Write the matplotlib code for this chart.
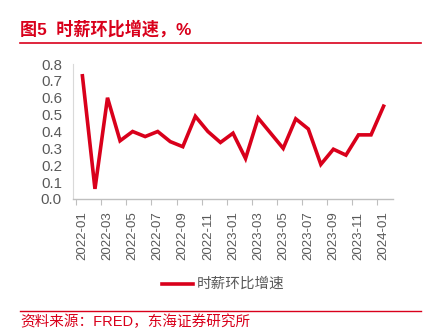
import matplotlib
matplotlib.use("Agg")
import matplotlib.pyplot as plt
from matplotlib.lines import Line2D

plt.rcParams['font.family'] = ['Liberation Sans', 'Noto Sans CJK SC', 'DejaVu Sans']

months = ["2022-01","2022-02","2022-03","2022-04","2022-05","2022-06","2022-07","2022-08",
          "2022-09","2022-10","2022-11","2022-12","2023-01","2023-02","2023-03","2023-04",
          "2023-05","2023-06","2023-07","2023-08","2023-09","2023-10","2023-11","2023-12","2024-01"]
values = [0.73, 0.06, 0.60, 0.345, 0.40, 0.37, 0.40, 0.34, 0.31, 0.49, 0.40, 0.335, 0.39,
          0.24, 0.48, 0.39, 0.30, 0.475, 0.415, 0.205, 0.295, 0.26, 0.38, 0.38, 0.55]
yticks = [0.0, 0.1, 0.2, 0.3, 0.4, 0.5, 0.6, 0.7, 0.8]
title = "图5  时薪环比增速，%"
series_name = "时薪环比增速"
source = "资料来源：FRED，东海证券研究所"

RED = "#D9001B"
GRAY = "#595959"
W, H = 428, 331
fig = plt.figure(figsize=(W/100, H/100), dpi=100)

ax = fig.add_axes([73/W, 1-199/H, (393-73)/W, (199-64)/H])
x = list(range(len(values)))
ax.plot(x, values, color=RED, lw=2.6, solid_joinstyle='miter')
ax.set_xlim(-0.75, len(values)-0.25)
ax.set_ylim(0, 0.8)
ax.set_yticks(yticks)
ax.set_yticklabels([f"{v:.1f}" for v in yticks], fontsize=10.8, color=GRAY)
ax.tick_params(axis='y', length=0, pad=8)
lab_idx = list(range(0, len(months), 2))
ax.set_xticks(lab_idx)
ax.set_xticklabels([months[i] for i in lab_idx], rotation=90, fontsize=9.5, color=GRAY)
ax.tick_params(axis='x', length=0, pad=9)
ax.set_xticks([i - 0.5 for i in lab_idx], minor=True)
ax.tick_params(axis='x', which='minor', length=4, color="#BFBFBF", width=0.8)
for s in ['top', 'right']:
    ax.spines[s].set_visible(False)
ax.spines['left'].set_color("#D9D9D9")
ax.spines['bottom'].set_color("#BFBFBF")
ax.spines['left'].set_linewidth(0.8)
ax.spines['bottom'].set_linewidth(1.0)

fig.text(20/W, 1-29/H, title, color=RED, fontsize=12.3, fontweight='bold', va='center', ha='left')
fig.add_artist(Line2D([20/W, 421/W], [1-43/H, 1-43/H], color=RED, lw=1.2))

fig.add_artist(Line2D([162/W, 193/W], [1-284/H, 1-284/H], color=RED, lw=2.6))
fig.text(197/W, 1-284/H, series_name, color=GRAY, fontsize=10.5, va='center', ha='left')

fig.add_artist(Line2D([20/W, 421/W], [1-311/H, 1-311/H], color=RED, lw=1.0))
fig.text(20/W, 1-322/H, source, color=RED, fontsize=10.5, va='center', ha='left')

fig.savefig("out.png", dpi=100)
